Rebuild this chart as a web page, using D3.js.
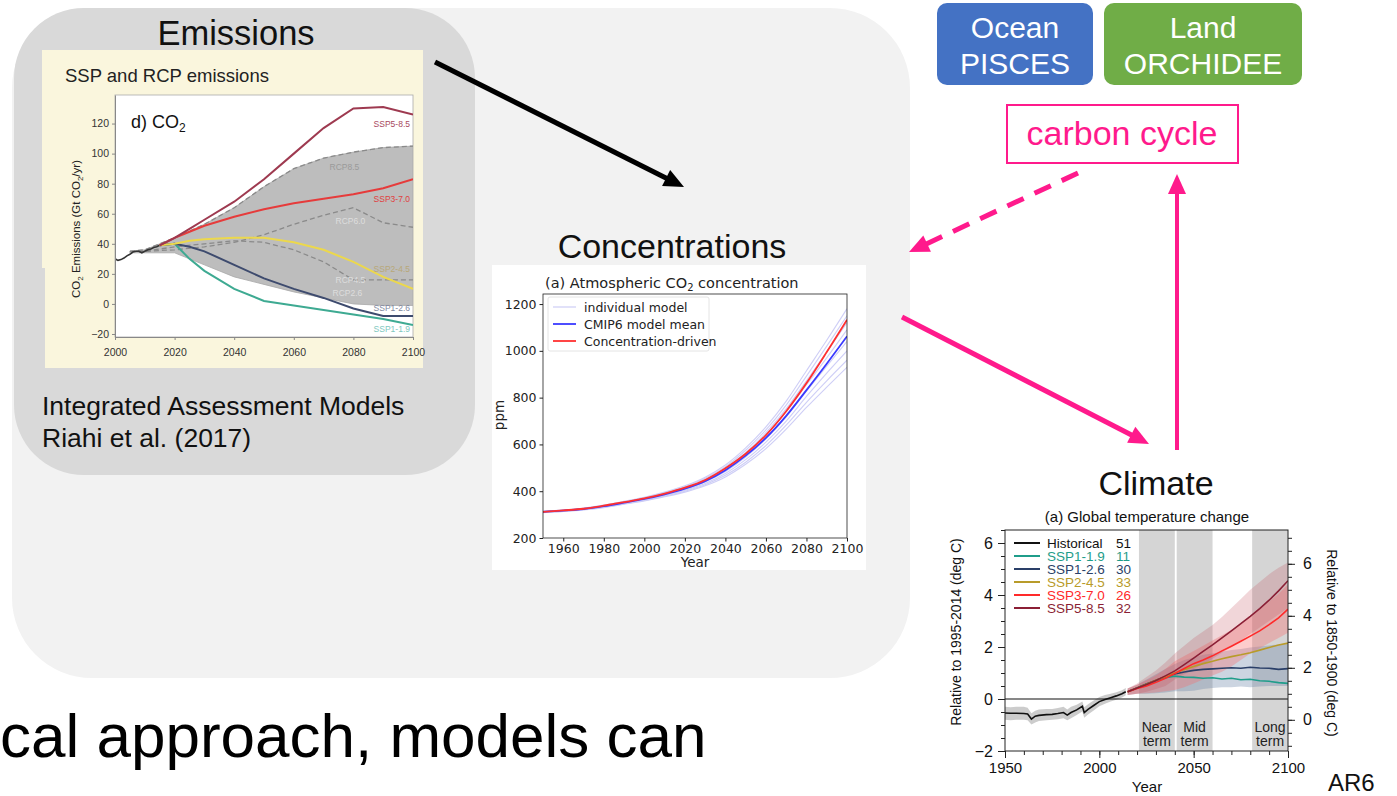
<!DOCTYPE html>
<html>
<head>
<meta charset="utf-8">
<script src="https://cdn.jsdelivr.net/npm/d3@7"></script>
<style>
  body { margin: 0; background: #fff; }
  svg { display: block; font-family: "Liberation Sans", Arial, sans-serif; }
</style>
</head>
<body>
<svg id="slide" width="1397" height="796"></svg>
<script>
// ─── Emissions (SSP / RCP, Gt CO2/yr) ────────────────────────────────────────
const emisHistYears  = [2000, 2001, 2002, 2003, 2004, 2005, 2006, 2007, 2008, 2009, 2010, 2011, 2012, 2013, 2014, 2015];
const emisHistValues = [30, 29, 29.5, 30.5, 32, 33, 34.5, 35, 35, 34, 35, 36, 36.5, 37.5, 38, 39];

const sspYears  = [2015, 2020, 2025, 2030, 2040, 2050, 2060, 2070, 2080, 2090, 2100];
const ssp585Emi = [39, 44, 50, 56, 68, 83, 100, 117, 130, 131, 126];
const ssp370Emi = [39, 44, 48, 52, 58, 63, 67, 70, 73, 77, 83];
const ssp245Emi = [39, 40, 42, 43, 44, 44, 41, 36, 28, 18, 10];
const ssp126Emi = [39, 40, 38, 35, 26, 17, 10, 4, -3, -8, -8];
const ssp119Emi = [39, 40, 30, 22, 10, 2, -1, -4, -7, -10, -14];

const rcpYears  = [2005, 2010, 2020, 2030, 2040, 2050, 2060, 2070, 2080, 2090, 2100];
const rcp85Emi  = [35, 36, 44, 53, 64, 78, 90, 97, 101, 104, 105];
const rcp60Emi  = [35, 35, 36, 38, 41, 46, 53, 59, 64, 54, 51];
const rcp45Emi  = [35, 35, 38, 40, 42, 41, 36, 28, 16, 16, 16];
const rcp26Emi  = [34, 34, 34, 26, 18, 13, 8, 4, 0, -1, -1];

const emisTicksX = [2000, 2020, 2040, 2060, 2080, 2100];
const emisTicksY = [-20, 0, 20, 40, 60, 80, 100, 120];

// ─── Concentrations (ppm) ────────────────────────────────────────────────────
const concYears = [1950, 1960, 1970, 1980, 1990, 2000, 2010, 2020, 2030, 2040, 2050, 2060, 2070, 2080, 2090, 2100];
const concMean  = [312, 317, 324, 336, 351, 367, 387, 411, 443, 490, 552, 628, 722, 832, 945, 1062];
const concDriven = [312, 318, 325, 338, 353, 369, 390, 415, 448, 498, 560, 640, 742, 862, 995, 1133];
const concModels = [
  [315, 320, 328, 341, 357, 374, 396, 423, 460, 512, 585, 675, 785, 915, 1045, 1180],
  [314, 319, 327, 340, 355, 372, 393, 419, 455, 505, 575, 662, 768, 892, 1020, 1150],
  [313, 318, 326, 338, 353, 370, 391, 416, 450, 499, 565, 650, 752, 872, 995, 1120],
  [312, 317, 325, 337, 352, 369, 389, 413, 446, 493, 558, 640, 740, 855, 970, 1090],
  [311, 316, 323, 335, 350, 366, 385, 408, 439, 484, 546, 624, 718, 828, 935, 1040],
  [310, 315, 322, 333, 348, 364, 382, 404, 433, 476, 535, 610, 700, 805, 905, 1000],
  [309, 314, 321, 332, 346, 361, 379, 400, 428, 468, 524, 595, 682, 780, 872, 960],
  [308, 313, 320, 330, 344, 358, 376, 396, 423, 461, 515, 582, 665, 758, 845, 930],
];
const concTicksX = [1960, 1980, 2000, 2020, 2040, 2060, 2080, 2100];
const concTicksY = [200, 400, 600, 800, 1000, 1200];
const concLegend = ['individual model', 'CMIP6 model mean', 'Concentration-driven'];

// ─── Climate (deg C relative to 1995-2014) ───────────────────────────────────
const histYears  = [1950, 1953, 1956, 1960, 1962, 1964, 1966, 1968, 1972, 1975, 1978, 1981, 1983, 1985, 1988, 1991, 1992, 1994, 1997, 2000, 2003, 2006, 2009, 2012, 2014];
const histTemp   = [-0.54, -0.55, -0.55, -0.56, -0.58, -0.77, -0.66, -0.63, -0.60, -0.59, -0.56, -0.52, -0.62, -0.52, -0.42, -0.28, -0.52, -0.40, -0.25, -0.10, -0.02, 0.05, 0.12, 0.20, 0.28];
const histLo     = [-0.8, -0.82, -0.8, -0.8, -0.82, -0.98, -0.9, -0.85, -0.82, -0.8, -0.78, -0.74, -0.82, -0.74, -0.62, -0.48, -0.72, -0.6, -0.44, -0.28, -0.18, -0.1, -0.03, 0.06, 0.14];
const histHi     = [-0.3, -0.32, -0.3, -0.3, -0.34, -0.55, -0.45, -0.4, -0.38, -0.38, -0.35, -0.3, -0.4, -0.3, -0.22, -0.1, -0.32, -0.2, -0.06, 0.08, 0.15, 0.2, 0.26, 0.34, 0.42];

const projYears = [2015, 2020, 2025, 2030, 2035, 2040, 2045, 2050, 2055, 2060, 2065, 2070, 2075, 2080, 2085, 2090, 2095, 2100];
const ssp119T = [0.28, 0.42, 0.58, 0.70, 0.82, 0.88, 0.84, 0.83, 0.80, 0.82, 0.77, 0.80, 0.74, 0.76, 0.70, 0.68, 0.63, 0.60];
const ssp126T = [0.28, 0.42, 0.58, 0.72, 0.86, 0.96, 1.04, 1.10, 1.14, 1.16, 1.18, 1.20, 1.18, 1.22, 1.19, 1.18, 1.14, 1.17];
const ssp245T = [0.28, 0.42, 0.57, 0.72, 0.86, 1.00, 1.13, 1.25, 1.36, 1.45, 1.55, 1.63, 1.70, 1.78, 1.88, 1.98, 2.08, 2.15];
const ssp370T = [0.28, 0.40, 0.50, 0.64, 0.80, 0.98, 1.17, 1.36, 1.50, 1.66, 1.85, 2.03, 2.22, 2.42, 2.62, 2.86, 3.12, 3.46];
const ssp585T = [0.28, 0.42, 0.56, 0.71, 0.89, 1.08, 1.32, 1.57, 1.83, 2.08, 2.35, 2.62, 2.90, 3.18, 3.48, 3.80, 4.16, 4.55];

const ssp585Lo = [0.15, 0.2, 0.28, 0.38, 0.5, 0.75, 0.95, 1.15, 1.35, 1.55, 1.78, 2.0, 2.25, 2.5, 2.75, 3.0, 3.25, 3.5];
const ssp585Hi = [0.4, 0.6, 0.85, 1.1, 1.4, 1.75, 2.05, 2.35, 2.6, 2.85, 3.15, 3.5, 3.85, 4.2, 4.5, 4.8, 5.05, 5.25];
const ssp370Lo = [0.15, 0.2, 0.22, 0.25, 0.3, 0.35, 0.45, 0.6, 0.75, 0.9, 1.05, 1.25, 1.5, 1.75, 1.95, 2.15, 2.35, 2.55];
const ssp370Hi = [0.4, 0.55, 0.72, 0.9, 1.15, 1.45, 1.65, 1.85, 2.05, 2.25, 2.45, 2.65, 2.9, 3.15, 3.45, 3.75, 4.05, 4.4];
const ssp126Lo = [0.15, 0.2, 0.2, 0.22, 0.25, 0.3, 0.3, 0.32, 0.38, 0.42, 0.45, 0.45, 0.48, 0.45, 0.48, 0.5, 0.5, 0.5];
const ssp126Hi = [0.4, 0.55, 0.75, 0.95, 1.15, 1.35, 1.5, 1.6, 1.7, 1.75, 1.82, 1.88, 1.92, 1.98, 2.02, 2.06, 2.1, 2.12];

const climNames  = ['Historical', 'SSP1-1.9', 'SSP1-2.6', 'SSP2-4.5', 'SSP3-7.0', 'SSP5-8.5'];
const climCounts = [51, 11, 30, 33, 26, 32];
const climColors = ['#111111', '#1f9d8a', '#2a3f68', '#b89b2a', '#ff2a2a', '#8b1f35'];
const periods = [
  { name: ['Near', 'term'], from: 2021, to: 2040 },
  { name: ['Mid', 'term'],  from: 2041, to: 2060 },
  { name: ['Long', 'term'], from: 2081, to: 2100 },
];
const offset1850 = 0.8;   // 1850-1900 baseline vs 1995-2014

const PINK = '#ff1a8c';
const fmtInt = d3.format('d');
const svg = d3.select('#slide');
const defs = svg.append('defs');

// ─── Fondos ──────────────────────────────────────────────────────────────────
svg.append('rect').attr('width', 1397).attr('height', 796).attr('fill', '#fff');
svg.append('rect').attr('x', 12).attr('y', 8).attr('width', 898).attr('height', 670)
  .attr('rx', 80).attr('fill', '#f2f2f2');
svg.append('rect').attr('x', 14).attr('y', 8).attr('width', 461).attr('height', 467)
  .attr('rx', 70).attr('fill', '#d9d9d9');

// helper: flecha con cabeza triangular
function arrow(x1, y1, x2, y2, color, width, dash) {
  const ang = Math.atan2(y2 - y1, x2 - x1);
  const head = 20, hw = 9;
  const bx = x2 - head * Math.cos(ang), by = y2 - head * Math.sin(ang);
  svg.append('line')
    .attr('x1', x1).attr('y1', y1).attr('x2', bx + 2 * Math.cos(ang)).attr('y2', by + 2 * Math.sin(ang))
    .attr('stroke', color).attr('stroke-width', width)
    .attr('stroke-dasharray', dash || null);
  svg.append('path')
    .attr('d', `M${x2},${y2}L${bx + hw * Math.sin(ang)},${by - hw * Math.cos(ang)}L${bx - hw * Math.sin(ang)},${by + hw * Math.cos(ang)}Z`)
    .attr('fill', color);
}

// ─── Panel: Emissions ────────────────────────────────────────────────────────
svg.append('text').attr('x', 236).attr('y', 45).attr('text-anchor', 'middle')
  .attr('font-size', 34.5).attr('fill', '#111').text('Emissions');

svg.append('rect').attr('x', 42).attr('y', 50).attr('width', 381).attr('height', 218).attr('fill', '#faf6dd');
svg.append('rect').attr('x', 45).attr('y', 50).attr('width', 378).attr('height', 318).attr('fill', '#faf6dd');
svg.append('text').attr('x', 65).attr('y', 82).attr('font-size', 18.5).attr('fill', '#222')
  .text('SSP and RCP emissions');

const emisX = d3.scaleLinear([2000, 2100], [115, 413]);
const emisY = d3.scaleLinear([-22, 139], [337, 95]);

const emisG = svg.append('g');
emisG.append('rect').attr('x', 115).attr('y', 95).attr('width', 298).attr('height', 242)
  .attr('fill', '#fff').attr('stroke', '#aaa').attr('stroke-width', 0.8);

defs.append('clipPath').attr('id', 'clipEmis').append('rect')
  .attr('x', 115).attr('y', 95).attr('width', 298).attr('height', 242);
const emisPlot = emisG.append('g').attr('clip-path', 'url(#clipEmis)');

const emisLine = d3.line().x(d => emisX(d[0])).y(d => emisY(d[1]));
const emisArea = d3.area().x(d => emisX(d[0])).y0(d => emisY(d[1])).y1(d => emisY(d[2]));

emisPlot.append('path')
  .attr('d', emisArea(rcpYears.map((yr, i) => [yr, rcp26Emi[i], rcp85Emi[i]])))
  .attr('fill', '#bdbdbd').attr('stroke', '#a8a8a8').attr('stroke-width', 0.8);

[rcp85Emi, rcp60Emi, rcp45Emi].forEach(vals => {
  emisPlot.append('path').attr('d', emisLine(d3.zip(rcpYears, vals)))
    .attr('fill', 'none').attr('stroke', '#8a8a8a').attr('stroke-width', 1.3)
    .attr('stroke-dasharray', '5,3');
});

emisPlot.append('path').attr('d', emisLine(d3.zip(emisHistYears, emisHistValues)))
  .attr('fill', 'none').attr('stroke', '#333').attr('stroke-width', 1.6);

const sspEmis = [
  { vals: ssp119Emi, color: '#3eaa92' },
  { vals: ssp126Emi, color: '#3e4b6e' },
  { vals: ssp245Emi, color: '#ecd84c' },
  { vals: ssp370Emi, color: '#e63b3b' },
  { vals: ssp585Emi, color: '#9e3a50' },
];
sspEmis.forEach(s => {
  emisPlot.append('path').attr('d', emisLine(d3.zip(sspYears, s.vals)))
    .attr('fill', 'none').attr('stroke', s.color).attr('stroke-width', 2);
});

// etiquetas de escenarios (anotaciones)
const emisLabels = [
  ['SSP5-8.5', 2100, 120, '#a8485e', 'end'],
  ['RCP8.5', 2077, 91, '#9a9a9a', 'middle'],
  ['SSP3-7.0', 2100, 70, '#e04040', 'end'],
  ['RCP6.0', 2079, 55, '#dddddd', 'middle'],
  ['SSP2-4.5', 2100, 23, '#b8a878', 'end'],
  ['RCP4.5', 2079, 16, '#dddddd', 'middle'],
  ['RCP2.6', 2078, 7, '#dddddd', 'middle'],
  ['SSP1-2.6', 2100, -3, '#8088a0', 'end'],
  ['SSP1-1.9', 2100, -17, '#80c8c0', 'end'],
];
emisLabels.forEach(([t, yr, v, c, anchor]) => {
  emisG.append('text').attr('x', emisX(yr) - (anchor === 'end' ? 3 : 0)).attr('y', emisY(v) + 3)
    .attr('text-anchor', anchor).attr('font-size', 8.5).attr('fill', c)
    .attr('font-family', '"Liberation Sans Narrow", "Liberation Sans", Arial, sans-serif')
    .text(t);
});

emisG.append('text').attr('x', 131).attr('y', 128).attr('font-size', 18).attr('fill', '#111')
  .text('d) CO').append('tspan').attr('font-size', 12).attr('dy', 4).text('2');

const emisAxisY = emisG.append('g').attr('transform', 'translate(115,0)')
  .call(d3.axisLeft(emisY).tickValues(emisTicksY).tickSize(3).tickSizeOuter(0).tickFormat(fmtInt));
const emisAxisX = emisG.append('g').attr('transform', 'translate(0,337)')
  .call(d3.axisBottom(emisX).tickValues(emisTicksX).tickSize(3).tickSizeOuter(0).tickFormat(fmtInt));
[emisAxisY, emisAxisX].forEach(a => {
  a.selectAll('path, line').attr('stroke', '#888');
  a.selectAll('text').attr('fill', '#333').attr('font-size', 10.5);
});
emisAxisX.selectAll('text').attr('dy', '1.2em');

const emisYl = emisG.append('text').attr('transform', 'translate(80,229) rotate(-90)')
  .attr('text-anchor', 'middle').attr('font-size', 11.5).attr('fill', '#222');
emisYl.append('tspan').text('CO');
emisYl.append('tspan').attr('font-size', 8).attr('dy', 3).text('2');
emisYl.append('tspan').attr('dy', -3).text(' Emissions (Gt CO');
emisYl.append('tspan').attr('font-size', 8).attr('dy', 3).text('2');
emisYl.append('tspan').attr('dy', -3).text('/yr)');

svg.append('text').attr('x', 42).attr('y', 415).attr('font-size', 26.5).attr('fill', '#111')
  .text('Integrated Assessment Models');
svg.append('text').attr('x', 42).attr('y', 447).attr('font-size', 26.5).attr('fill', '#111')
  .text('Riahi et al. (2017)');

// ─── Panel: Concentrations ───────────────────────────────────────────────────
svg.append('text').attr('x', 672).attr('y', 258).attr('text-anchor', 'middle')
  .attr('font-size', 34).attr('fill', '#111').text('Concentrations');
svg.append('rect').attr('x', 492).attr('y', 265).attr('width', 374).attr('height', 305).attr('fill', '#fff');

const MPL = '"DejaVu Sans", sans-serif';
const concX = d3.scaleLinear([1950, 2100], [543, 847]);
const concY = d3.scaleLinear([200, 1243], [538, 294]);
const concG = svg.append('g').attr('font-family', MPL);

const concT = concG.append('text').attr('x', 545).attr('y', 288).attr('font-size', 14.5).attr('fill', '#222');
concT.append('tspan').text('(a) Atmospheric CO');
concT.append('tspan').attr('font-size', 10).attr('dy', 3).text('2');
concT.append('tspan').attr('dy', -3).text(' concentration');

defs.append('clipPath').attr('id', 'clipConc').append('rect')
  .attr('x', 543).attr('y', 294).attr('width', 304).attr('height', 244);
const concPlot = concG.append('g').attr('clip-path', 'url(#clipConc)');
const concLine = d3.line().x(d => concX(d[0])).y(d => concY(d[1])).curve(d3.curveMonotoneX);

concModels.forEach(m => {
  concPlot.append('path').attr('d', concLine(d3.zip(concYears, m)))
    .attr('fill', 'none').attr('stroke', '#c9c9f5').attr('stroke-width', 1.1).attr('opacity', 0.9);
});
concPlot.append('path').attr('d', concLine(d3.zip(concYears, concMean)))
  .attr('fill', 'none').attr('stroke', '#3a3aff').attr('stroke-width', 1.8);
concPlot.append('path').attr('d', concLine(d3.zip(concYears, concDriven)))
  .attr('fill', 'none').attr('stroke', '#ff3030').attr('stroke-width', 1.8);

concG.append('rect').attr('x', 543).attr('y', 294).attr('width', 304).attr('height', 244)
  .attr('fill', 'none').attr('stroke', '#222').attr('stroke-width', 0.8);
const concAxisY = concG.append('g').attr('transform', 'translate(543,0)')
  .call(d3.axisLeft(concY).tickValues(concTicksY).tickSize(3.5).tickSizeOuter(0).tickFormat(fmtInt));
const concAxisX = concG.append('g').attr('transform', 'translate(0,538)')
  .call(d3.axisBottom(concX).tickValues(concTicksX).tickSize(3.5).tickSizeOuter(0).tickFormat(fmtInt));
[concAxisY, concAxisX].forEach(a => {
  a.select('.domain').remove();
  a.selectAll('line').attr('stroke', '#222');
  a.selectAll('text').attr('fill', '#222').attr('font-size', 12.5).attr('font-family', MPL);
});
concG.append('text').attr('x', 695).attr('y', 567).attr('text-anchor', 'middle')
  .attr('font-size', 13.5).attr('fill', '#222').text('Year');
concG.append('text').attr('transform', 'translate(504,415) rotate(-90)').attr('text-anchor', 'middle')
  .attr('font-size', 13.5).attr('fill', '#222').text('ppm');

const concLegG = concG.append('g');
concLegG.append('rect').attr('x', 548).attr('y', 297).attr('width', 161).attr('height', 54).attr('rx', 2)
  .attr('fill', '#fff').attr('stroke', '#ddd').attr('stroke-width', 0.8);
const concLegColors = ['#c9c9f5', '#3a3aff', '#ff3030'];
concLegend.forEach((t, i) => {
  const y = 307 + i * 17;
  concLegG.append('line').attr('x1', 553).attr('x2', 576).attr('y1', y).attr('y2', y)
    .attr('stroke', concLegColors[i]).attr('stroke-width', i ? 1.8 : 1.1);
  concLegG.append('text').attr('x', 584).attr('y', y + 4.5).attr('font-size', 12.5).attr('fill', '#222').text(t);
});

// ─── Flechas ─────────────────────────────────────────────────────────────────
arrow(435, 62, 684, 187, '#000', 5);
arrow(1078, 173, 909, 252, PINK, 5, '18,12');
arrow(902, 317, 1149, 444, PINK, 5);
arrow(1177, 450, 1177, 174, PINK, 4);

// ─── Cajas: Ocean / Land / carbon cycle ──────────────────────────────────────
const boxes = [
  { x: 937, w: 156, fill: '#4472c4', lines: ['Ocean', 'PISCES'] },
  { x: 1104, w: 198, fill: '#70ad47', lines: ['Land', 'ORCHIDEE'] },
];
boxes.forEach(b => {
  svg.append('rect').attr('x', b.x).attr('y', 3).attr('width', b.w).attr('height', 82).attr('rx', 10)
    .attr('fill', b.fill);
  b.lines.forEach((t, i) => {
    svg.append('text').attr('x', b.x + b.w / 2).attr('y', 38 + i * 36).attr('text-anchor', 'middle')
      .attr('font-size', 30).attr('fill', '#fff').text(t);
  });
});
svg.append('rect').attr('x', 1007).attr('y', 105).attr('width', 231).attr('height', 58)
  .attr('fill', '#fff').attr('stroke', PINK).attr('stroke-width', 2);
svg.append('text').attr('x', 1122).attr('y', 145).attr('text-anchor', 'middle')
  .attr('font-size', 34).attr('fill', PINK).text('carbon cycle');

// ─── Panel: Climate ──────────────────────────────────────────────────────────
svg.append('text').attr('x', 1156).attr('y', 495).attr('text-anchor', 'middle')
  .attr('font-size', 34).attr('fill', '#111').text('Climate');

const climX = d3.scaleLinear([1950, 2100], [1005, 1288]);
const climY = d3.scaleLinear([-2, 6.5], [751, 530]);
const climY2 = d3.scaleLinear([-2 + offset1850, 6.5 + offset1850], [751, 530]);
const climG = svg.append('g');

climG.append('text').attr('x', 1147).attr('y', 522).attr('text-anchor', 'middle')
  .attr('font-size', 15).attr('fill', '#111').text('(a) Global temperature change');

defs.append('clipPath').attr('id', 'clipClim').append('rect')
  .attr('x', 1005).attr('y', 530).attr('width', 283).attr('height', 221);
const climPlot = climG.append('g').attr('clip-path', 'url(#clipClim)');

periods.forEach(p => {
  climPlot.append('rect').attr('x', climX(p.from)).attr('y', 530)
    .attr('width', climX(p.to) - climX(p.from)).attr('height', 221).attr('fill', '#d5d5d5');
});

const climLine = d3.line().x(d => climX(d[0])).y(d => climY(d[1]));
const climArea = d3.area().x(d => climX(d[0])).y0(d => climY(d[1])).y1(d => climY(d[2]));
const band = (lo, hi, years) => years.map((yr, i) => [yr, lo[i], hi[i]]);

climPlot.append('path').attr('d', climArea(band(histLo, histHi, histYears))).attr('fill', 'rgba(170,170,170,0.6)');
climPlot.append('path').attr('d', climArea(band(ssp126Lo, ssp126Hi, projYears))).attr('fill', 'rgba(110,135,170,0.35)');
climPlot.append('path').attr('d', climArea(band(ssp370Lo, ssp370Hi, projYears))).attr('fill', 'rgba(250,110,110,0.35)');
climPlot.append('path').attr('d', climArea(band(ssp585Lo, ssp585Hi, projYears))).attr('fill', 'rgba(190,70,80,0.22)');

climPlot.append('line').attr('x1', 1005).attr('x2', 1288).attr('y1', climY(0)).attr('y2', climY(0))
  .attr('stroke', '#111').attr('stroke-width', 1.2);

climPlot.append('path').attr('d', climLine(d3.zip(histYears, histTemp)))
  .attr('fill', 'none').attr('stroke', climColors[0]).attr('stroke-width', 1.6);
[ssp119T, ssp126T, ssp245T, ssp370T, ssp585T].forEach((vals, i) => {
  climPlot.append('path').attr('d', climLine(d3.zip(projYears, vals)))
    .attr('fill', 'none').attr('stroke', climColors[i + 1]).attr('stroke-width', 1.6);
});

periods.forEach(p => {
  p.name.forEach((t, i) => {
    climG.append('text').attr('x', (climX(p.from) + climX(p.to)) / 2).attr('y', 732 + i * 14)
      .attr('text-anchor', 'middle').attr('font-size', 14).attr('fill', '#222').text(t);
  });
});

climG.append('rect').attr('x', 1005).attr('y', 530).attr('width', 283).attr('height', 221)
  .attr('fill', 'none').attr('stroke', '#222').attr('stroke-width', 1);

function styleClimAxis(a, fs) {
  a.select('.domain').remove();
  a.selectAll('line').attr('stroke', '#222');
  a.selectAll('text').attr('fill', '#111').attr('font-size', fs);
}
// minor ticks first, then major ticks with labels
climG.append('g').attr('transform', 'translate(1005,0)')
  .call(d3.axisLeft(climY).tickValues(d3.range(-2, 6.51, 0.5)).tickSize(4).tickFormat(''))
  .call(a => styleClimAxis(a, 0));
styleClimAxis(climG.append('g').attr('transform', 'translate(1005,0)')
  .call(d3.axisLeft(climY).tickValues([-2, 0, 2, 4, 6]).tickSize(7).tickPadding(5).tickFormat(fmtInt)), 16);

climG.append('g').attr('transform', 'translate(1288,0)')
  .call(d3.axisRight(climY2).tickValues(d3.range(-1, 7.31, 0.5)).tickSize(4).tickFormat(''))
  .call(a => styleClimAxis(a, 0));
styleClimAxis(climG.append('g').attr('transform', 'translate(1288,0)')
  .call(d3.axisRight(climY2).tickValues([0, 2, 4, 6]).tickSize(7).tickPadding(8).tickFormat(fmtInt)), 16);

climG.append('g').attr('transform', 'translate(0,751)')
  .call(d3.axisBottom(climX).tickValues(d3.range(1950, 2101, 10)).tickSize(4).tickFormat(''))
  .call(a => styleClimAxis(a, 0));
styleClimAxis(climG.append('g').attr('transform', 'translate(0,751)')
  .call(d3.axisBottom(climX).tickValues([1950, 2000, 2050, 2100]).tickSize(7).tickPadding(4).tickFormat(fmtInt)), 15);

climG.append('text').attr('x', 1147).attr('y', 792).attr('text-anchor', 'middle')
  .attr('font-size', 15).attr('fill', '#111').text('Year');
climG.append('text').attr('transform', 'translate(961,632) rotate(-90)').attr('text-anchor', 'middle')
  .attr('font-size', 14).attr('fill', '#111').text('Relative to 1995-2014 (deg C)');
climG.append('text').attr('transform', 'translate(1327,643) rotate(90)').attr('text-anchor', 'middle')
  .attr('font-size', 14).attr('fill', '#111').text('Relative to 1850-1900 (deg C)');

climNames.forEach((n, i) => {
  const y = 543 + i * 13;
  climG.append('line').attr('x1', 1014).attr('x2', 1040).attr('y1', y).attr('y2', y)
    .attr('stroke', climColors[i]).attr('stroke-width', 2);
  climG.append('text').attr('x', 1047).attr('y', y + 5).attr('font-size', 13.5).attr('fill', climColors[i]).text(n);
  climG.append('text').attr('x', 1116).attr('y', y + 5).attr('font-size', 13.5).attr('fill', climColors[i]).text(climCounts[i]);
});

// ─── Texto inferior ──────────────────────────────────────────────────────────
svg.append('text').attr('x', 0).attr('y', 757).attr('font-size', 62).attr('fill', '#000')
  .text('cal approach, models can');
svg.append('text').attr('x', 1328).attr('y', 791).attr('font-size', 24).attr('fill', '#111').text('AR6');
</script>
</body>
</html>
